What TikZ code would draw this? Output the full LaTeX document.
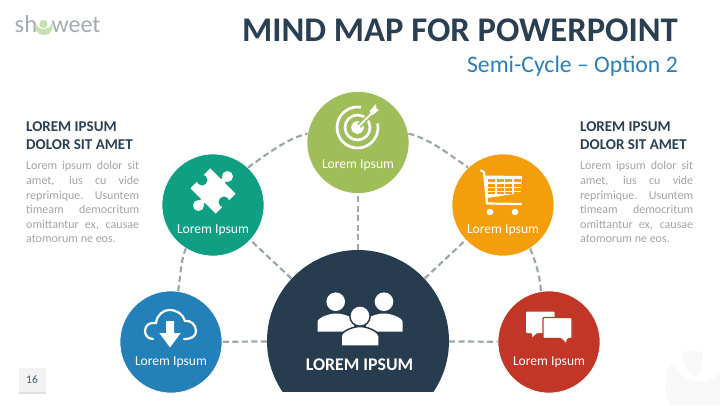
\documentclass[tikz,border=0pt]{standalone}
\usepackage{fontspec}
\setmainfont{Carlito}
\usetikzlibrary{arrows.meta, calc, positioning}

\definecolor{hubnavy}{HTML}{283C50}
\definecolor{titlenavy}{HTML}{2B3F53}
\definecolor{subblue}{HTML}{2A7FB8}
\definecolor{cloudblue}{HTML}{2480B9}
\definecolor{puzzleteal}{HTML}{0FA083}
\definecolor{targetgreen}{HTML}{9FBD58}
\definecolor{cartorange}{HTML}{F59E0B}
\definecolor{chatred}{HTML}{C13626}
\definecolor{dashgrey}{HTML}{9AA8AB}
\definecolor{bodygrey}{HTML}{A3A3A3}
\definecolor{logogrey}{HTML}{A2ACB0}
\definecolor{logogreen}{HTML}{C6E0B0}
\definecolor{markgrey}{HTML}{F8F8F8}
\definecolor{pagegrey}{HTML}{F2F2F2}

\newcommand{\jline}[1]{\makebox[113pt][s]{#1}}

\tikzset{
	bubble/.style={circle, minimum size=102pt, inner sep=0pt, draw=white, line width=0.6pt},
	spoke/.style={dashgrey, line width=2.2pt, dash pattern=on 6pt off 3.5pt},
	bublabel/.style={white, font=\fontsize{13.6}{16}\selectfont},
	headtxt/.style={titlenavy, anchor=north west, align=left, inner sep=0pt, font=\fontsize{15}{18}\bfseries\selectfont},
	bodytxt/.style={bodygrey, anchor=north west, align=left, inner sep=0pt, font=\fontsize{12}{14.6}\selectfont},
}

\begin{document}
\begin{tikzpicture}[x=1pt, y=-1pt]
	\useasboundingbox (0,0) rectangle (720,405);

	% Watermark
	\fill[markgrey] (681,353) .. controls (688,349) and (698,350) .. (703,353) .. controls (703,364) and (700,372) .. (697,377) .. controls (690,374) and (682,362) .. (681,353) -- cycle;
	\fill[markgrey] (671,362) .. controls (678,376) and (700,392) .. (720,373) -- (720,405) -- (670,405) .. controls (663,390) and (665,372) .. (671,362) -- cycle;

	% Logo
	\node[logogrey, font=\fontsize{24.5}{25}\selectfont, anchor=base west, inner sep=0pt] (logoa) at (14.5,32.5) {sh};
	\node[logogrey, font=\fontsize{24}{25}\selectfont, anchor=base west, inner sep=0pt] (logob) at (51.5,32.5) {weet};
	\fill[logogreen] (36,23) .. controls (38,29) and (42,29) .. (44,29) .. controls (47,29) and (50,28) .. (52,23) .. controls (54.5,30) and (50,35) .. (44,35) .. controls (38,35) and (33.5,30) .. (36,23) -- cycle;
	\fill[logogreen] (43.5,24) circle (4.2);

	% Title
	\node[titlenavy, anchor=base east, inner sep=0pt, font=\fontsize{34.6}{36}\bfseries\selectfont] (title) at (678,41) {MIND MAP FOR POWERPOINT};
	\node[subblue, anchor=base east, inner sep=0pt, font=\fontsize{23.7}{26}\selectfont] (subtitle) at (678,72) {Semi-Cycle -- Option 2};

	% Left text
	\node[headtxt] (lefthead) at (26,121.5) {LOREM IPSUM\\DOLOR SIT AMET};
	\node[bodytxt] (leftbody) at (26,161.3) {\jline{Lorem ipsum dolor sit}\\\jline{amet, ius cu vide}\\\jline{reprimique. Usuntem}\\\jline{timeam democritum}\\\jline{omittantur ex, causae}\\atomorum ne eos.};

	% Right text
	\node[headtxt] (righthead) at (580,121.5) {LOREM IPSUM\\DOLOR SIT AMET};
	\node[bodytxt] (rightbody) at (580,161.3) {\jline{Lorem ipsum dolor sit}\\\jline{amet, ius cu vide}\\\jline{reprimique. Usuntem}\\\jline{timeam democritum}\\\jline{omittantur ex, causae}\\atomorum ne eos.};

	% Page number
	\fill[pagegrey] (19,368) rectangle (46,394);
	\fill[black!12] (19,392) rectangle (46,394);
	\node[titlenavy!85, font=\fontsize{11.5}{12}\selectfont] (pagenum) at (32,380) {16};

	% Circles
	\node[bubble, fill=cloudblue] (cloud) at (171,342) {};
	\node[bubble, fill=puzzleteal] (puzzle) at (213,205) {};
	\node[bubble, fill=targetgreen] (target) at (358,142.5) {};
	\node[bubble, fill=cartorange] (cart) at (503,205) {};
	\node[bubble, fill=chatred] (chat) at (549,342) {};

	% Centre circle, cut off at the bottom
	\node[circle, minimum size=182pt, inner sep=0pt, path picture={\fill[hubnavy] (-100,-100) rectangle (100,51);}] (hub) at (358,341) {};

	% Dashed connectors
	\draw[spoke] (cloud.82) .. controls (180.6,276) and (180.6,261) .. (puzzle.238);
	\draw[spoke] (puzzle.47) .. controls (268,153.5) and (286.7,138.7) .. (target.170);
	\draw[spoke] (target.10) .. controls (429.3,138.7) and (448,153.5) .. (cart.133);
	\draw[spoke] (cart.302) .. controls (535.4,261) and (540,276) .. (chat.99);
	\draw[spoke] (hub) -- (cloud);
	\draw[spoke] (hub) -- (puzzle);
	\draw[spoke] (hub) -- (target);
	\draw[spoke] (hub) -- (cart);
	\draw[spoke] (hub) -- (chat);

	% Labels
	\node[bublabel] (cloudlbl) at (171,362) {Lorem Ipsum};
	\node[bublabel] (puzzlelbl) at (213,230) {Lorem Ipsum};
	\node[bublabel] (targetlbl) at (358,165) {Lorem Ipsum};
	\node[bublabel] (cartlbl) at (503,230) {Lorem Ipsum};
	\node[bublabel] (chatlbl) at (549,362) {Lorem Ipsum};
	\node[white, font=\fontsize{17.8}{20}\bfseries\selectfont] (hublbl) at (359.5,364.5) {LOREM IPSUM};

	% Cloud icon
	\draw[white, line width=2.2pt, line cap=round] (153,339) .. controls (147,339) and (145,334) .. (145,331) .. controls (145,325) and (150,322) .. (156,323) .. controls (157,315) and (163,310) .. (169,310) .. controls (177,310) and (183,314) .. (185,321) .. controls (191,320) and (196,325) .. (196,331) .. controls (196,336) and (192,339) .. (184,339);
	\fill[white] (166,321) -- (174,321) -- (174,333) -- (180.7,333) -- (170,347.5) -- (159.3,333) -- (166,333) -- cycle;

	% Puzzle icon
	\begin{scope}[shift={(213,191)}, rotate=45]
		\fill[white] (-14,-18) rectangle (14,18);
		\fill[white] (-19,-2.5) rectangle (19,2.5);
		\fill[white] (20.5,0) circle (5.5);
		\fill[white] (-20.5,0) circle (5.5);
		\fill[puzzleteal] (0,-15.5) circle (5.5);
		\fill[puzzleteal] (0,15.5) circle (5.5);
		\fill[puzzleteal] (-2.5,-18.5) rectangle (2.5,-15);
		\fill[puzzleteal] (-2.5,15) rectangle (2.5,18.5);
	\end{scope}

	% Target icon
	\draw[white, line width=2.7pt] (357.5,127.5) circle (20.5);
	\fill[targetgreen] (357.5,127.5) -- (362,102) -- (385,102) -- (385,122) -- cycle;
	\draw[white, line width=2.7pt] (357.5,127.5) circle (12.5);
	\fill[white] (357.5,127.5) circle (6.3);
	\draw[targetgreen, line width=5pt] (359,126) -- (373,112);
	\draw[white, line width=2pt] (358,127) -- (372,113);
	\fill[white] (369.5,111) -- (375,105) -- (376,104) -- (376.5,108.5) -- (379,110) -- (374,114) -- (372,115) -- cycle;

	% Cart icon
	\draw[white, line width=2.2pt, line cap=round, line join=round] (481,170.5) -- (484,172) -- (487,203.5) -- (521,204);
	\fill[white] (485,175.5) -- (522,176) -- (520.5,193) -- (487,198) -- cycle;
	\foreach \cx/\lx in {0/487.5,1/496.5,2/505,3/513.5} {
		\foreach \ry/\ht in {0/178.5,1/183.5,2/188} {
			\fill[cartorange] (\lx,\ht) rectangle ++(7,3.2);
		}
		\fill[cartorange] (\lx,192.4) rectangle ++(7,1.5);
	}
	\fill[white] (490,212) circle (3.3);
	\fill[white] (515,212) circle (3.3);

	% Chat icon
	\fill[white, rounded corners=1pt] (526,311.7) -- (554.5,311.7) -- (554.5,333) -- (537,333) -- (532,337.5) -- (532,333) -- (526,333) -- cycle;
	\fill[white, rounded corners=1pt, draw=chatred, line width=1.2pt] (543,317.5) -- (572,317.5) -- (572,338.5) -- (568,338.5) -- (566,344) -- (561,338.5) -- (543,338.5) -- cycle;

	% People icon
	\fill[white] (335.7,301.7) circle (9.3);
	\fill[white] (384,301.7) circle (9.3);
	\fill[white] (317.5,331.7) -- (317.5,322) .. controls (318,317) and (330,313.5) .. (336,313.5) .. controls (343,313.5) and (354,317) .. (354,322) -- (354,331.7) -- cycle;
	\fill[white] (402.7,331.7) -- (402.7,322) .. controls (402,317) and (390,313.5) .. (384,313.5) .. controls (377,313.5) and (366,317) .. (366,322) -- (366,331.7) -- cycle;
	\fill[white, draw=hubnavy, line width=1.5pt] (360,316) circle (10.2);
	\fill[white, draw=hubnavy, line width=1.5pt] (341,346.2) -- (341,336) .. controls (342,331) and (353,326.5) .. (360,326.5) .. controls (367,326.5) and (378,331) .. (379,336) -- (379,346.2) -- cycle;
\end{tikzpicture}
\end{document}
